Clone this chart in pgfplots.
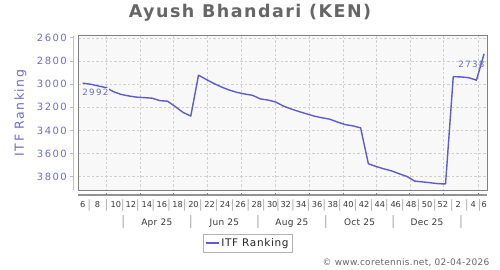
\documentclass[border=0pt]{standalone}
\usepackage{fontspec}
\setmainfont{DejaVu Sans}
\newfontfamily\wideA[LetterSpace=14]{DejaVu Sans}
\newfontfamily\wideB[LetterSpace=12]{DejaVu Sans}
\newfontfamily\wideC[LetterSpace=6]{DejaVu Sans}
\newfontfamily\wideD[LetterSpace=3]{DejaVu Sans}
\newfontfamily\wideT[LetterSpace=8.5]{DejaVu Sans}
\usepackage{pgfplots}
\pgfplotsset{compat=1.18}
\definecolor{linec}{RGB}{92,92,208}
\definecolor{labc}{RGB}{108,108,205}
\definecolor{yaxc}{RGB}{185,185,230}
\definecolor{bgc}{RGB}{248,248,248}
\definecolor{gridc}{RGB}{208,208,208}
\definecolor{framec}{RGB}{128,128,128}
\definecolor{txtc}{RGB}{55,55,55}
\definecolor{sepc}{RGB}{175,175,175}
\definecolor{titc}{RGB}{102,102,102}
\pgfplotsset{common/.style={
  scale only axis, width=409pt, height=154.3pt,
  at={(78.3pt,80pt)}, anchor=south west,
  xmin=5.43, xmax=58.41, ymin=2582, ymax=3915, y dir=reverse,
}}
\pgfplotstableread{
x y
6 2992
7 3001
8 3016
9 3030
10 3066
11 3090
12 3103
13 3113
14 3117
15 3122
16 3143
17 3148
18 3195
19 3245
20 3276
21 2923
22 2960
23 2995
24 3026
25 3052
26 3072
27 3086
28 3097
29 3128
30 3138
31 3155
32 3190
33 3215
34 3237
35 3257
36 3277
37 3291
38 3303
39 3328
40 3350
41 3361
42 3378
43 3688
44 3712
45 3732
46 3750
47 3775
48 3798
49 3838
50 3845
51 3852
52 3860
53 3863
54 2936
55 2938
56 2945
57 2966
58 2738
}\rankdata
\begin{document}
\begin{tikzpicture}[x=1pt,y=1pt]
\useasboundingbox (0,0) rectangle (500,270);
% main plot
\begin{axis}[common,
  axis background/.style={fill=bgc},
  axis line style={draw=framec, line width=0.9pt},
  xtick={9.11,13.42,17.74,22.13,26.5,30.97,35.39,39.72,44.06,48.37,52.74,57.24},
  ytick={2600,2800,3000,3200,3400,3600,3800},
  xticklabels={}, yticklabels={},
  major tick length=0pt,
  grid=major, grid style={gridc, dash pattern=on 2.5pt off 2pt, line width=0.5pt},
  legend style={at={(0.4144,-0.3435)}, anchor=center, draw=gray!60, fill=white,
    font=\wideC\fontsize{10.5}{12}\selectfont, text=black!85, inner xsep=2pt, inner ysep=2pt},
  legend image code/.code={\draw[#1] (0pt,0pt) -- (13pt,0pt);},
]
\addplot[linec, line width=1.4pt, line join=round] table {\rankdata};
\addlegendentry{ITF Ranking}
\node[font=\wideA\fontsize{8.7}{10}\selectfont, text=labc, fill=bgc, inner sep=0.8pt] at (axis cs:7.63,3071) {2\,992};
\node[font=\wideA\fontsize{8.7}{10}\selectfont, text=labc, inner sep=0.8pt] at (axis cs:56.34,2826) {2\,738};
\end{axis}
% y axis line, y ticks and labels, x axis line
\begin{axis}[common,
  axis x line*=bottom, axis y line*=left,
  axis x line shift=5pt, axis y line shift=5pt,
  x axis line style={draw=framec!85, line width=1.3pt},
  y axis line style={draw=yaxc, line width=0.8pt},
  xtick=\empty,
  ytick={2600,2800,3000,3200,3400,3600,3800},
  y tick style={draw=yaxc, line width=0.8pt},
  tick align=outside, major tick length=3pt,
  yticklabel style={font=\wideA\fontsize{10}{12}\selectfont, text=labc},
  /pgf/number format/assume math mode=true,
  /pgf/number format/1000 sep={\,},
]
\addplot[draw=none] table {\rankdata};
\end{axis}
% small monthly ticks on x axis line
\begin{axis}[common,
  axis x line*=bottom, axis y line=none,
  axis x line shift=5pt,
  x axis line style={draw=none},
  xtick={9.11,13.42,17.74,22.13,26.5,30.97,35.39,39.72,44.06,48.37,52.74,57.24},
  xticklabels={},
  x tick style={draw=framec, line width=0.6pt},
  tick align=inside, major tick length=2pt,
]
\addplot[draw=none] table {\rankdata};
\end{axis}
% week labels
\begin{axis}[common,
  axis line style={draw=none}, ymajorticks=false,
  major tick length=0pt, tick style={draw=none},
  xtick={6.0,7.9,10.3,12.25,14.3,16.25,18.3,20.35,22.45,24.45,26.45,28.55,30.55,32.3,34.3,36.35,38.4,40.4,42.45,44.5,46.55,48.55,50.6,52.65,54.65,56.6,58.0},
  xticklabels={6,8,10,12,14,16,18,20,22,24,26,28,30,32,34,36,38,40,42,44,46,48,50,52,2,4,6},
  xticklabel style={font=\fontsize{8.2}{10}\selectfont, text=txtc, anchor=base, yshift=-17.9pt},
]
\addplot[draw=none] table {\rankdata};
\end{axis}
% week separators
\begin{axis}[common,
  axis line style={draw=none}, ymajorticks=false,
  major tick length=0pt, tick style={draw=none},
  xtick={6.85,9.1,11.2,13.15,15.15,17.2,19.2,21.3,23.35,25.4,27.45,29.45,31.3,33.25,35.25,37.3,39.3,41.35,43.4,45.4,47.45,49.5,51.6,53.8,55.75,57.4},
  xticklabels={|,|,|,|,|,|,|,|,|,|,|,|,|,|,|,|,|,|,|,|,|,|,|,|,|,|},
  xticklabel style={font=\fontsize{11.4}{12}\selectfont, text=sepc, anchor=base, yshift=-18pt},
]
\addplot[draw=none] table {\rankdata};
\end{axis}
% month row
\begin{axis}[common,
  axis line style={draw=none}, ymajorticks=false,
  major tick length=0pt, tick style={draw=none},
  xtick={11.26,15.6,19.99,24.35,28.7,33.1,37.48,41.86,46.24,50.6,55.0},
  xticklabels={{\fontsize{13}{13}\selectfont\color{sepc}|},Apr 25,{\fontsize{13}{13}\selectfont\color{sepc}|},Jun 25,{\fontsize{13}{13}\selectfont\color{sepc}|},Aug 25,{\fontsize{13}{13}\selectfont\color{sepc}|},Oct 25,{\fontsize{13}{13}\selectfont\color{sepc}|},Dec 25,{\fontsize{13}{13}\selectfont\color{sepc}|}},
  xticklabel style={font=\wideD\fontsize{9}{10}\selectfont, text=txtc, anchor=base, yshift=-35pt},
]
\addplot[draw=none] table {\rankdata};
\end{axis}
\node[font=\wideT\bfseries\fontsize{17.5}{20}\selectfont, text=titc] at (250,257) {Ayush Bhandari (KEN)};
\node[font=\wideB\fontsize{12.5}{14}\selectfont, text=labc, rotate=90] at (20.5,157) {ITF Ranking};
\node[font=\wideD\fontsize{9}{10}\selectfont, text=titc, anchor=east, inner sep=0pt] at (489.5,7.3) {© www.coretennis.net, 02-04-2026};
\end{tikzpicture}
\end{document}
